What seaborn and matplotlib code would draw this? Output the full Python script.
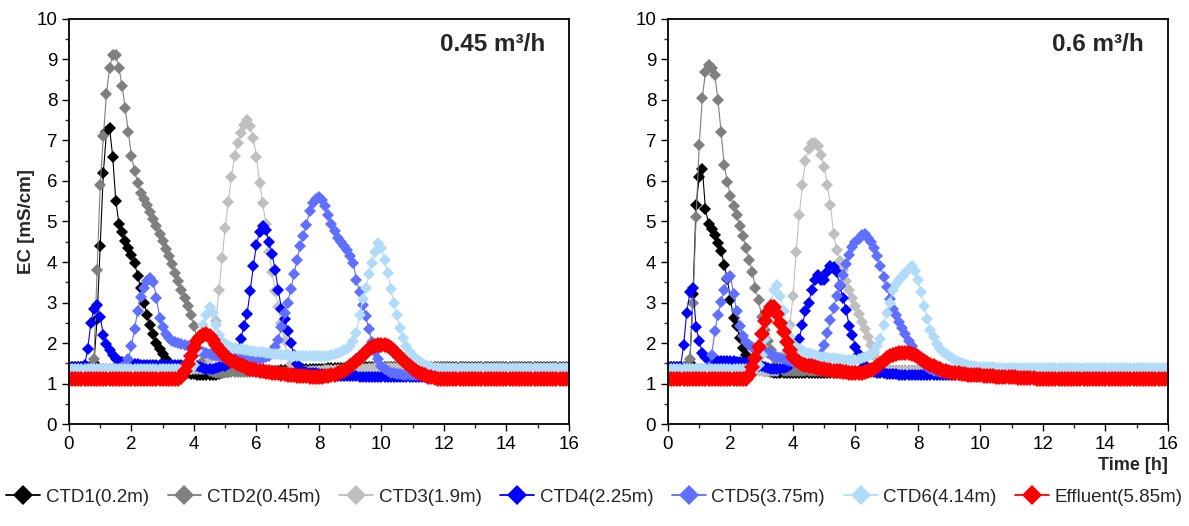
import numpy as np
import matplotlib
matplotlib.use("Agg")
import matplotlib.pyplot as plt
from matplotlib.lines import Line2D
from matplotlib.ticker import MultipleLocator
import seaborn as sns

# sampling grid: 0.0 ... 16.0 h every 0.1 h
TIME = np.round(np.arange(161) * 0.1, 1)

LABELS = ["CTD1(0.2m)", "CTD2(0.45m)", "CTD3(1.9m)", "CTD4(2.25m)",
          "CTD5(3.75m)", "CTD6(4.14m)", "Effluent(5.85m)"]
COLORS = ["#000000", "#7f7f7f", "#bfbfbf", "#0000ff", "#5f6fff", "#b0dcfa", "#ff0000"]
PANEL_TITLES = ["0.45 m\u00b3/h", "0.6 m\u00b3/h"]

# ---------------- 0.45 m3/h ----------------
L_CTD1 = [1.4,1.4,1.4,1.4,1.4,1.4,1.4,1.4,1.5,2.6,
          4.4,6.2,7.2,7.3,6.6,5.5,4.95,4.75,4.52,4.35,
          4.18,3.98,3.65,3.35,3.0,2.7,2.45,2.22,2.0,1.85,
          1.74,1.6,1.45,1.35,1.3,1.28,1.27,1.26,1.25,1.24,
          1.23,1.22,1.21,1.2,1.2,1.2,1.21,1.22,1.24,1.26,
          1.28,1.29,1.3,1.3,1.3,1.3,1.3,1.3,1.3,1.3,
          1.3,1.3,1.31,1.31,1.31,1.32,1.32,1.32,1.33,1.33,
          1.33,1.34,1.34,1.34,1.35,1.35,1.35,1.36,1.36,1.36,
          1.37,1.37,1.37,1.38,1.38,1.38,1.39,1.39,1.39,1.4,
          1.4,1.4,1.4,1.4,1.4,1.4,1.4,1.4,1.4,1.4,
          1.4,1.4,1.4,1.4,1.4,1.4,1.4,1.4,1.4,1.4,
          1.4,1.4,1.4,1.4,1.4,1.4,1.4,1.4,1.4,1.4,
          1.4,1.4,1.4,1.4,1.4,1.4,1.4,1.4,1.4,1.4,
          1.4,1.4,1.4,1.4,1.4,1.4,1.4,1.4,1.4,1.4,
          1.4,1.4,1.4,1.4,1.4,1.4,1.4,1.4,1.4,1.4,
          1.4,1.4,1.4,1.4,1.4,1.4,1.4,1.4,1.4,1.4,
          1.4]
L_CTD2 = [1.4,1.4,1.4,1.4,1.4,1.4,1.4,1.4,1.6,3.8,
          5.9,7.1,8.15,8.8,9.12,9.1,8.78,8.35,7.8,7.2,
          6.62,6.25,5.95,5.7,5.55,5.4,5.24,5.06,4.88,4.7,
          4.52,4.33,4.15,3.95,3.74,3.53,3.32,3.12,2.92,2.7,
          2.42,2.1,1.8,1.55,1.4,1.32,1.28,1.27,1.27,1.27,
          1.28,1.28,1.28,1.28,1.28,1.28,1.28,1.28,1.28,1.28,
          1.28,1.28,1.28,1.28,1.28,1.28,1.28,1.28,1.28,1.28,
          1.28,1.28,1.28,1.28,1.28,1.28,1.28,1.28,1.28,1.28,
          1.3,1.3,1.31,1.31,1.32,1.32,1.33,1.33,1.34,1.34,
          1.35,1.35,1.36,1.36,1.37,1.37,1.38,1.38,1.38,1.38,
          1.38,1.38,1.38,1.38,1.38,1.38,1.38,1.38,1.38,1.38,
          1.38,1.38,1.38,1.38,1.38,1.38,1.38,1.38,1.38,1.38,
          1.38,1.38,1.38,1.38,1.38,1.38,1.38,1.38,1.38,1.38,
          1.38,1.38,1.38,1.38,1.38,1.38,1.38,1.38,1.38,1.38,
          1.38,1.38,1.38,1.38,1.38,1.38,1.38,1.38,1.38,1.38,
          1.38,1.38,1.38,1.38,1.38,1.38,1.38,1.38,1.38,1.38,
          1.38]
L_CTD3 = [1.35,1.35,1.35,1.35,1.35,1.35,1.35,1.35,1.35,1.35,
          1.35,1.35,1.35,1.35,1.35,1.35,1.35,1.35,1.35,1.35,
          1.35,1.35,1.35,1.35,1.35,1.35,1.35,1.35,1.35,1.35,
          1.35,1.35,1.35,1.35,1.35,1.35,1.35,1.35,1.35,1.35,
          1.35,1.35,1.35,1.35,1.4,1.6,2.0,2.55,3.3,4.1,
          4.85,5.47,6.1,6.62,6.95,7.18,7.38,7.5,7.35,7.05,
          6.6,5.95,5.45,4.95,4.25,3.75,3.28,2.9,2.5,2.05,
          1.7,1.48,1.38,1.33,1.32,1.32,1.32,1.32,1.32,1.32,
          1.32,1.32,1.33,1.33,1.33,1.34,1.34,1.34,1.35,1.35,
          1.35,1.35,1.36,1.36,1.36,1.37,1.37,1.37,1.38,1.38,
          1.38,1.38,1.38,1.38,1.38,1.38,1.38,1.38,1.38,1.38,
          1.38,1.38,1.38,1.38,1.38,1.38,1.38,1.38,1.38,1.38,
          1.38,1.38,1.38,1.38,1.38,1.38,1.38,1.38,1.38,1.38,
          1.38,1.38,1.38,1.38,1.38,1.38,1.38,1.38,1.38,1.38,
          1.38,1.38,1.38,1.38,1.38,1.38,1.38,1.38,1.38,1.38,
          1.38,1.38,1.38,1.38,1.38,1.38,1.38,1.38,1.38,1.38,
          1.38]
L_CTD4 = [1.4,1.4,1.4,1.4,1.4,1.45,1.85,2.5,2.85,2.95,
          2.65,2.2,1.97,1.82,1.7,1.6,1.55,1.52,1.5,1.5,
          1.49,1.48,1.47,1.46,1.46,1.45,1.45,1.45,1.45,1.45,
          1.45,1.45,1.45,1.45,1.45,1.45,1.45,1.45,1.45,1.45,
          1.44,1.42,1.4,1.38,1.36,1.36,1.37,1.38,1.4,1.42,
          1.44,1.47,1.52,1.6,1.8,2.1,2.42,2.72,3.28,3.9,
          4.42,4.75,4.88,4.8,4.5,4.2,3.8,3.3,2.85,2.6,
          2.3,2.0,1.7,1.48,1.35,1.3,1.28,1.27,1.26,1.25,
          1.24,1.23,1.22,1.21,1.2,1.2,1.19,1.19,1.18,1.18,
          1.18,1.18,1.18,1.17,1.17,1.17,1.17,1.16,1.16,1.16,
          1.15,1.15,1.15,1.15,1.15,1.15,1.15,1.15,1.15,1.15,
          1.15,1.15,1.15,1.15,1.15,1.15,1.15,1.15,1.15,1.15,
          1.15,1.15,1.15,1.15,1.15,1.15,1.15,1.15,1.15,1.15,
          1.15,1.15,1.15,1.15,1.15,1.15,1.15,1.15,1.15,1.15,
          1.15,1.15,1.15,1.15,1.15,1.15,1.15,1.15,1.15,1.15,
          1.15,1.15,1.15,1.15,1.15,1.15,1.15,1.15,1.15,1.15,
          1.15]
L_CTD5 = [1.35,1.35,1.35,1.35,1.35,1.35,1.35,1.35,1.35,1.35,
          1.35,1.35,1.35,1.35,1.35,1.35,1.35,1.4,1.45,1.6,
          1.92,2.35,2.8,3.14,3.37,3.52,3.6,3.5,3.12,2.62,
          2.4,2.23,2.12,2.06,2.02,1.99,1.97,1.94,1.92,1.89,
          1.86,1.83,1.8,1.77,1.75,1.73,1.71,1.69,1.67,1.65,
          1.64,1.64,1.63,1.63,1.62,1.62,1.62,1.61,1.61,1.6,
          1.6,1.6,1.62,1.65,1.68,1.75,1.9,2.07,2.4,2.73,
          3.0,3.33,3.7,4.05,4.4,4.65,4.92,5.25,5.45,5.56,
          5.6,5.52,5.38,5.16,4.95,4.77,4.6,4.5,4.4,4.3,
          4.15,3.97,3.56,3.26,2.95,2.67,2.34,2.03,1.78,1.6,
          1.42,1.35,1.3,1.27,1.25,1.24,1.23,1.22,1.22,1.21,
          1.2,1.2,1.2,1.2,1.2,1.2,1.2,1.2,1.2,1.2,
          1.2,1.2,1.2,1.2,1.2,1.2,1.2,1.2,1.2,1.2,
          1.2,1.2,1.2,1.2,1.2,1.2,1.2,1.2,1.2,1.2,
          1.2,1.2,1.2,1.2,1.2,1.2,1.2,1.2,1.2,1.2,
          1.2,1.2,1.2,1.2,1.2,1.2,1.2,1.2,1.2,1.2,
          1.2]
L_CTD6 = [1.37,1.37,1.37,1.37,1.37,1.37,1.37,1.37,1.37,1.37,
          1.37,1.37,1.37,1.37,1.37,1.37,1.37,1.37,1.37,1.37,
          1.37,1.37,1.37,1.37,1.37,1.37,1.37,1.37,1.37,1.37,
          1.37,1.37,1.37,1.37,1.37,1.37,1.37,1.37,1.37,1.37,
          1.45,1.8,2.2,2.45,2.7,2.9,2.75,2.45,2.2,2.05,
          1.98,1.93,1.9,1.88,1.86,1.84,1.83,1.82,1.81,1.8,
          1.79,1.78,1.77,1.76,1.75,1.74,1.73,1.72,1.71,1.7,
          1.7,1.69,1.69,1.68,1.68,1.67,1.67,1.67,1.67,1.67,
          1.67,1.67,1.68,1.69,1.7,1.72,1.75,1.78,1.82,1.86,
          1.92,2.05,2.24,2.68,3.08,3.36,3.7,3.98,4.25,4.48,
          4.35,4.05,3.72,3.33,2.98,2.68,2.38,2.12,1.92,1.78,
          1.67,1.6,1.55,1.5,1.46,1.43,1.41,1.39,1.38,1.37,
          1.36,1.36,1.36,1.36,1.36,1.36,1.36,1.36,1.36,1.36,
          1.36,1.36,1.36,1.36,1.36,1.36,1.36,1.36,1.36,1.36,
          1.36,1.36,1.36,1.36,1.36,1.36,1.36,1.36,1.36,1.36,
          1.36,1.36,1.36,1.36,1.36,1.36,1.36,1.36,1.36,1.36,
          1.36]
L_EFF = [1.1,1.1,1.1,1.1,1.1,1.1,1.1,1.1,1.1,1.1,
         1.1,1.1,1.1,1.1,1.1,1.1,1.1,1.1,1.1,1.1,
         1.1,1.1,1.1,1.1,1.1,1.1,1.1,1.1,1.1,1.1,
         1.1,1.1,1.1,1.1,1.1,1.1,1.15,1.3,1.48,1.68,
         1.88,2.05,2.15,2.2,2.22,2.17,2.07,1.96,1.86,1.77,
         1.68,1.62,1.56,1.52,1.48,1.45,1.42,1.39,1.37,1.35,
         1.33,1.31,1.3,1.29,1.28,1.27,1.26,1.25,1.24,1.23,
         1.22,1.21,1.2,1.19,1.19,1.18,1.18,1.17,1.17,1.17,
         1.17,1.17,1.18,1.19,1.2,1.22,1.25,1.28,1.32,1.37,
         1.42,1.49,1.56,1.64,1.71,1.78,1.84,1.89,1.93,1.95,
         1.96,1.95,1.92,1.87,1.81,1.74,1.66,1.58,1.5,1.43,
         1.37,1.32,1.27,1.23,1.2,1.17,1.15,1.13,1.12,1.11,
         1.1,1.1,1.1,1.1,1.1,1.1,1.1,1.1,1.1,1.1,
         1.1,1.1,1.1,1.1,1.1,1.1,1.1,1.1,1.1,1.1,
         1.1,1.1,1.1,1.1,1.1,1.1,1.1,1.1,1.1,1.1,
         1.1,1.1,1.1,1.1,1.1,1.1,1.1,1.1,1.1,1.1,
         1.1]

# ---------------- 0.6 m3/h ----------------
R_CTD1 = [1.4,1.4,1.4,1.4,1.4,1.4,1.4,1.5,3.2,5.4,
          6.1,6.3,5.3,4.95,4.82,4.66,4.47,4.28,3.93,3.57,
          3.07,2.62,2.42,2.12,1.88,1.7,1.57,1.48,1.42,1.38,
          1.35,1.32,1.3,1.28,1.27,1.26,1.25,1.25,1.25,1.25,
          1.25,1.25,1.25,1.25,1.25,1.25,1.25,1.25,1.25,1.25,
          1.26,1.26,1.26,1.27,1.27,1.27,1.28,1.28,1.28,1.29,
          1.3,1.3,1.3,1.3,1.3,1.3,1.3,1.3,1.3,1.3,
          1.3,1.3,1.3,1.3,1.3,1.3,1.3,1.3,1.3,1.3,
          1.3,1.3,1.3,1.3,1.3,1.3,1.3,1.3,1.3,1.3,
          1.3,1.3,1.3,1.3,1.3,1.3,1.3,1.3,1.3,1.3,
          1.3,1.3,1.3,1.3,1.3,1.3,1.3,1.3,1.3,1.3,
          1.3,1.3,1.3,1.3,1.3,1.3,1.3,1.3,1.3,1.3,
          1.3,1.3,1.3,1.3,1.3,1.3,1.3,1.3,1.3,1.3,
          1.3,1.3,1.3,1.3,1.3,1.3,1.3,1.3,1.3,1.3,
          1.3,1.3,1.3,1.3,1.3,1.3,1.3,1.3,1.3,1.3,
          1.3,1.3,1.3,1.3,1.3,1.3,1.3,1.3,1.3,1.3,
          1.3]
R_CTD2 = [1.4,1.4,1.4,1.4,1.4,1.4,1.4,1.6,3.0,5.1,
          6.9,8.05,8.7,8.86,8.8,8.62,8.0,7.2,6.4,5.98,
          5.64,5.38,5.15,4.9,4.63,4.35,4.05,3.75,3.35,3.05,
          2.65,2.32,2.06,1.83,1.63,1.48,1.38,1.32,1.3,1.3,
          1.3,1.3,1.3,1.3,1.3,1.3,1.3,1.3,1.3,1.3,
          1.3,1.3,1.3,1.3,1.3,1.3,1.3,1.3,1.3,1.3,
          1.3,1.3,1.3,1.3,1.3,1.3,1.3,1.3,1.3,1.3,
          1.3,1.3,1.3,1.3,1.3,1.3,1.3,1.3,1.3,1.3,
          1.3,1.3,1.3,1.3,1.3,1.3,1.3,1.3,1.3,1.3,
          1.3,1.3,1.3,1.3,1.3,1.3,1.3,1.3,1.3,1.3,
          1.3,1.3,1.3,1.3,1.3,1.3,1.3,1.3,1.3,1.3,
          1.3,1.3,1.3,1.3,1.3,1.3,1.3,1.3,1.3,1.3,
          1.3,1.3,1.3,1.3,1.3,1.3,1.3,1.3,1.3,1.3,
          1.3,1.3,1.3,1.3,1.3,1.3,1.3,1.3,1.3,1.3,
          1.3,1.3,1.3,1.3,1.3,1.3,1.3,1.3,1.3,1.3,
          1.3,1.3,1.3,1.3,1.3,1.3,1.3,1.3,1.3,1.3,
          1.3]
R_CTD3 = [1.3,1.3,1.3,1.3,1.3,1.3,1.3,1.3,1.3,1.3,
          1.3,1.3,1.3,1.3,1.3,1.3,1.3,1.3,1.3,1.3,
          1.3,1.3,1.3,1.3,1.3,1.3,1.3,1.3,1.3,1.3,
          1.3,1.3,1.3,1.3,1.3,1.32,1.4,1.7,2.0,2.45,
          3.15,4.25,5.15,5.9,6.5,6.8,6.93,6.95,6.86,6.65,
          6.35,5.9,5.4,4.7,4.3,4.03,3.8,3.52,3.32,3.1,
          2.92,2.72,2.52,2.35,2.15,1.96,1.76,1.6,1.47,1.38,
          1.33,1.31,1.3,1.3,1.3,1.3,1.3,1.3,1.3,1.3,
          1.3,1.3,1.3,1.3,1.3,1.3,1.3,1.3,1.3,1.3,
          1.3,1.3,1.3,1.3,1.3,1.3,1.3,1.3,1.3,1.3,
          1.3,1.3,1.3,1.3,1.3,1.3,1.3,1.3,1.3,1.3,
          1.3,1.3,1.3,1.3,1.3,1.3,1.3,1.3,1.3,1.3,
          1.3,1.3,1.3,1.3,1.3,1.3,1.3,1.3,1.3,1.3,
          1.3,1.3,1.3,1.3,1.3,1.3,1.3,1.3,1.3,1.3,
          1.3,1.3,1.3,1.3,1.3,1.3,1.3,1.3,1.3,1.3,
          1.3,1.3,1.3,1.3,1.3,1.3,1.3,1.3,1.3,1.3,
          1.3]
R_CTD4 = [1.4,1.4,1.4,1.4,1.4,1.95,2.75,3.25,3.35,2.4,
          2.05,1.75,1.65,1.58,1.56,1.55,1.55,1.55,1.55,1.55,
          1.55,1.55,1.54,1.53,1.52,1.5,1.48,1.46,1.45,1.44,
          1.42,1.4,1.38,1.36,1.35,1.35,1.36,1.38,1.4,1.45,
          1.6,1.85,2.1,2.45,2.78,3.0,3.3,3.55,3.67,3.55,
          3.56,3.76,3.9,3.88,3.75,3.4,3.1,2.82,2.42,2.2,
          1.9,1.72,1.6,1.45,1.35,1.3,1.28,1.27,1.26,1.25,
          1.24,1.24,1.23,1.23,1.22,1.22,1.21,1.21,1.2,1.2,
          1.2,1.2,1.2,1.2,1.2,1.2,1.2,1.2,1.2,1.2,
          1.2,1.2,1.2,1.2,1.2,1.2,1.2,1.2,1.2,1.2,
          1.18,1.18,1.18,1.18,1.18,1.18,1.18,1.18,1.18,1.18,
          1.18,1.18,1.18,1.18,1.18,1.18,1.18,1.18,1.18,1.18,
          1.18,1.18,1.18,1.18,1.18,1.18,1.18,1.18,1.18,1.18,
          1.18,1.18,1.18,1.18,1.18,1.18,1.18,1.18,1.18,1.18,
          1.18,1.18,1.18,1.18,1.18,1.18,1.18,1.18,1.18,1.18,
          1.18,1.18,1.18,1.18,1.18,1.18,1.18,1.18,1.18,1.18,
          1.18]
R_CTD5 = [1.35,1.35,1.35,1.35,1.35,1.35,1.35,1.35,1.35,1.35,
          1.35,1.35,1.35,1.4,1.7,2.3,2.7,3.02,3.32,3.6,
          3.65,3.2,2.78,2.42,2.17,2.03,1.95,1.89,1.85,1.82,
          1.8,1.78,1.75,1.72,1.69,1.66,1.63,1.6,1.58,1.56,
          1.53,1.51,1.5,1.49,1.49,1.5,1.52,1.56,1.62,1.72,
          1.95,2.24,2.57,2.87,3.17,3.44,3.69,3.95,4.18,4.38,
          4.5,4.58,4.66,4.68,4.6,4.5,4.35,4.15,3.9,3.63,
          3.39,3.08,2.85,2.68,2.52,2.37,2.21,2.05,1.92,1.79,
          1.66,1.55,1.47,1.4,1.35,1.32,1.3,1.29,1.28,1.27,
          1.26,1.26,1.25,1.25,1.24,1.24,1.23,1.23,1.23,1.22,
          1.22,1.22,1.22,1.22,1.22,1.22,1.22,1.22,1.22,1.22,
          1.22,1.22,1.22,1.22,1.22,1.22,1.22,1.22,1.22,1.22,
          1.22,1.22,1.22,1.22,1.22,1.22,1.22,1.22,1.22,1.22,
          1.22,1.22,1.22,1.22,1.22,1.22,1.22,1.22,1.22,1.22,
          1.22,1.22,1.22,1.22,1.22,1.22,1.22,1.22,1.22,1.22,
          1.22,1.22,1.22,1.22,1.22,1.22,1.22,1.22,1.22,1.22,
          1.22]
R_CTD6 = [1.37,1.37,1.37,1.37,1.37,1.37,1.37,1.37,1.37,1.37,
          1.37,1.37,1.37,1.37,1.37,1.37,1.37,1.37,1.37,1.37,
          1.37,1.37,1.37,1.37,1.37,1.37,1.37,1.37,1.38,1.45,
          1.7,2.1,2.6,3.0,3.3,3.42,3.15,2.8,2.4,2.15,
          1.98,1.9,1.85,1.82,1.78,1.75,1.72,1.7,1.68,1.66,
          1.65,1.64,1.63,1.62,1.61,1.6,1.59,1.59,1.58,1.58,
          1.59,1.6,1.62,1.65,1.68,1.72,1.78,1.92,2.1,2.45,
          2.75,3.0,3.3,3.45,3.55,3.62,3.72,3.82,3.89,3.78,
          3.55,3.25,2.92,2.6,2.33,2.15,1.98,1.86,1.78,1.72,
          1.67,1.62,1.58,1.53,1.5,1.48,1.46,1.44,1.42,1.41,
          1.4,1.4,1.4,1.4,1.4,1.39,1.39,1.39,1.39,1.39,
          1.39,1.39,1.39,1.39,1.39,1.39,1.39,1.39,1.39,1.39,
          1.39,1.39,1.39,1.39,1.39,1.39,1.39,1.39,1.39,1.39,
          1.39,1.39,1.39,1.39,1.39,1.39,1.39,1.39,1.39,1.39,
          1.39,1.39,1.39,1.39,1.39,1.39,1.39,1.39,1.39,1.39,
          1.39,1.39,1.39,1.39,1.39,1.39,1.39,1.39,1.39,1.39,
          1.39]
R_EFF = [1.1,1.1,1.1,1.1,1.1,1.1,1.1,1.1,1.1,1.1,
         1.1,1.1,1.1,1.1,1.1,1.1,1.1,1.1,1.1,1.1,
         1.1,1.1,1.1,1.1,1.1,1.1,1.2,1.4,1.62,1.9,
         2.22,2.55,2.77,2.9,2.88,2.72,2.5,2.27,2.03,1.82,
         1.65,1.57,1.52,1.49,1.46,1.44,1.42,1.41,1.39,1.37,
         1.36,1.34,1.33,1.32,1.31,1.3,1.29,1.28,1.27,1.26,
         1.25,1.25,1.26,1.28,1.3,1.33,1.37,1.42,1.48,1.55,
         1.62,1.67,1.71,1.73,1.75,1.76,1.76,1.75,1.73,1.7,
         1.66,1.61,1.56,1.51,1.46,1.42,1.38,1.35,1.32,1.3,
         1.28,1.27,1.26,1.25,1.24,1.23,1.22,1.22,1.21,1.2,
         1.2,1.19,1.19,1.18,1.18,1.17,1.17,1.16,1.16,1.16,
         1.15,1.15,1.14,1.14,1.14,1.13,1.13,1.13,1.12,1.12,
         1.11,1.11,1.11,1.11,1.11,1.11,1.11,1.11,1.11,1.11,
         1.1,1.1,1.1,1.1,1.1,1.1,1.1,1.1,1.1,1.1,
         1.1,1.1,1.1,1.1,1.1,1.1,1.1,1.1,1.1,1.1,
         1.1,1.1,1.1,1.1,1.1,1.1,1.1,1.1,1.1,1.1,
         1.1]

LEFT = [L_CTD1, L_CTD2, L_CTD3, L_CTD4, L_CTD5, L_CTD6, L_EFF]
RIGHT = [R_CTD1, R_CTD2, R_CTD3, R_CTD4, R_CTD5, R_CTD6, R_EFF]

sns.set_style("ticks")
plt.rcParams["font.family"] = ["Liberation Sans", "DejaVu Sans"]

fig = plt.figure(figsize=(11.89, 5.26), dpi=100)
ax1 = fig.add_axes([0.0580, 0.1939, 0.4205, 0.7700])
ax2 = fig.add_axes([0.5618, 0.1939, 0.4205, 0.7700])

MS = [6.6, 6.6, 6.6, 6.6, 6.6, 6.6, 7.8]

for ax, series, title in [(ax1, LEFT, PANEL_TITLES[0]), (ax2, RIGHT, PANEL_TITLES[1])]:
    for vals, col, lab, ms in zip(series, COLORS, LABELS, MS):
        sns.lineplot(x=TIME, y=np.array(vals), ax=ax, color=col, marker="D",
                     markersize=ms, markeredgewidth=0, markeredgecolor=col,
                     linewidth=0.8, errorbar=None, legend=False)
    ax.set_xlim(0, 16)
    ax.set_ylim(0, 10)
    ax.xaxis.set_major_locator(MultipleLocator(2))
    ax.xaxis.set_minor_locator(MultipleLocator(1))
    ax.yaxis.set_major_locator(MultipleLocator(1))
    ax.yaxis.set_minor_locator(MultipleLocator(0.5))
    ax.tick_params(which="major", direction="out", length=5, width=1.0,
                   labelsize=13.5, colors="black")
    ax.tick_params(which="minor", direction="out", length=3, width=1.0)
    for sp in ax.spines.values():
        sp.set_visible(True)
        sp.set_linewidth(1.3)
        sp.set_color("black")
    ax.set_xlabel("")
    ax.set_ylabel("")
    ax.text(0.952, 0.936, title, transform=ax.transAxes, ha="right", va="center",
            fontsize=17.5, fontweight="bold")

ax1.set_ylabel("EC [mS/cm]", fontsize=13.5, fontweight="bold", labelpad=1)
ax2.set_xlabel("Time [h]", fontsize=13, fontweight="bold", loc="right", labelpad=3)

handles = [Line2D([0], [0], color=c, marker="D", markersize=10, markeredgewidth=0,
                  linewidth=1.3) for c in COLORS]
fig.legend(handles, LABELS, loc="center", bbox_to_anchor=(0.5, 0.055), ncol=7,
           frameon=False, fontsize=13.5, handlelength=1.8, handletextpad=0.3,
           columnspacing=1.0)

fig.savefig("out.png", dpi=100)
